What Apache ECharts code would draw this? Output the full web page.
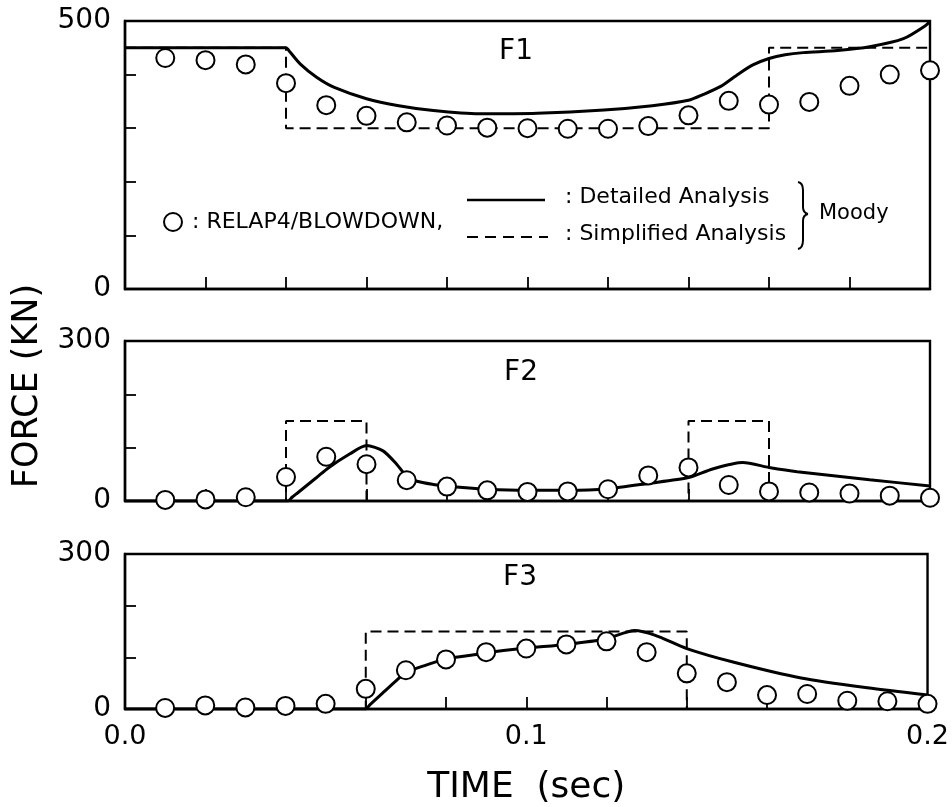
<!DOCTYPE html>
<html><head><meta charset="utf-8">
<script src="https://cdn.jsdelivr.net/npm/echarts@6/dist/echarts.min.js"></script>
<style>html,body{margin:0;padding:0;background:#fff}#c{width:952px;height:807px}</style>
</head><body><div id="c"></div>
<script>
// ---- data (time in sec, force in kN) ----
const relapTime = [0.01,0.02,0.03,0.04,0.05,0.06,0.07,0.08,0.09,0.10,0.11,0.12,0.13,0.14,0.15,0.16,0.17,0.18,0.19,0.20];
const f1Relap = [431,427,419,384,343,323,311,305,301,300,299,299,304,324,351,344,349,379,400,408];
const f2Relap = [2,3,7,45,83,69,39,27,20,17,18,22,48,63,30,18,16,14,10,6];
const f3Relap = [2,7,3,6,10,39,75,96,110,117,125,131,110,69,52,27,29,16,15,10];

const f1DetT = [0,0.038,0.04,0.041,0.0435,0.0476,0.052,0.06,0.068,0.0766,0.088,0.1024,0.119,0.131,0.14,0.1437,0.148,0.152,0.156,0.16,0.164,0.1685,0.177,0.185,0.1934,0.199,0.2];
const f1DetV = [450,450,450,442,420,395,376,355,342,333,327,328,334,342,352,363,378,399,418,430,437,441,445,452,467,492,500];
const f2DetT = [0,0.0385,0.0405,0.0415,0.043,0.0476,0.0505,0.0558,0.06,0.0641,0.0675,0.07,0.0725,0.0766,0.0806,0.09,0.10,0.11,0.12,0.13,0.14,0.146,0.1535,0.16,0.167,0.185,0.2];
const f2DetV = [0,0,0,7,16,44,62,88,104,94,69,46,37,31,27,22,20,20,23,33,44,60,72,63,55,40,28];
const f3DetT = [0,0.058,0.06,0.061,0.0645,0.068,0.07,0.075,0.08,0.088,0.09,0.10,0.11,0.12,0.127,0.132,0.14,0.152,0.1685,0.185,0.2];
const f3DetV = [0,0,0,8,33,58,71,85,97,106,109,118,125,136,152,143,117,90,60,41,27];

const f1SimT = [0,0.04,0.04,0.16,0.16,0.2];
const f1SimV = [450,450,300,300,450,450];
const f2SimT = [0,0.04,0.04,0.06,0.06,0.14,0.14,0.16,0.16,0.2];
const f2SimV = [0,0,150,150,0,0,150,150,0,0];
const f3SimT = [0,0.06,0.06,0.14,0.14,0.2];
const f3SimV = [0,0,150,150,0,0];

const yMax = [500,300,300];
const panelNames = ['F1','F2','F3'];
const xTickLabels = {'0':'0.0','0.1':'0.1','0.2':'0.2'};

const FONT = 'DejaVu Sans';
const pairs = (t,v)=>t.map((x,i)=>[x,v[i]]);

const grids = [
  {left:125, right:22, top:21, height:268},
  {left:125, right:22, top:341, height:160},
  {left:125, right:22, top:554, height:160}
];

const xAxes = grids.map((g,i)=>({
  type:'value', gridIndex:i, min:0, max:0.2, interval:0.02,
  axisLine:{show:true, lineStyle:{color:'#000', width:2.4}},
  axisTick:{show:true, inside:true, length:12, lineStyle:{color:'#000', width:1.8}},
  splitLine:{show:false},
  axisLabel:{show:i===2, margin:14, color:'#000', fontFamily:FONT, fontSize:27,
    formatter:v=>{
      if (Math.abs(v)<1e-9) return xTickLabels['0'];
      if (Math.abs(v-0.1)<1e-9) return xTickLabels['0.1'];
      if (Math.abs(v-0.2)<1e-9) return xTickLabels['0.2'];
      return '';
    }},
  name: i===2 ? 'TIME  (sec)' : '',
  nameLocation:'middle', nameGap:61,
  nameTextStyle:{color:'#000', fontFamily:FONT, fontSize:36}
}));

const yAxes = grids.map((g,i)=>({
  type:'value', gridIndex:i, min:0, max:yMax[i], interval:100,
  axisLine:{show:true, lineStyle:{color:'#000', width:2.4}},
  axisTick:{show:true, inside:true, length:11, lineStyle:{color:'#000', width:1.8}},
  splitLine:{show:false},
  axisLabel:{margin:14, color:'#000', fontFamily:FONT, fontSize:28,
    formatter:v=>(v===0||v===yMax[i])?String(v):''}
}));

const detT=[f1DetT,f2DetT,f3DetT], detV=[f1DetV,f2DetV,f3DetV];
const simT=[f1SimT,f2SimT,f3SimT], simV=[f1SimV,f2SimV,f3SimV];
const relV=[f1Relap,f2Relap,f3Relap];

const series=[];
for(let i=0;i<3;i++){
  series.push({type:'line', xAxisIndex:i, yAxisIndex:i, data:pairs(simT[i],simV[i]),
    symbol:'none', lineStyle:{color:'#000', width:2, type:[11,6]}, z:2});
  series.push({type:'line', xAxisIndex:i, yAxisIndex:i, data:pairs(detT[i],detV[i]),
    symbol:'none', smooth:0.25, lineStyle:{color:'#000', width:3}, z:3});
  series.push({type:'scatter', xAxisIndex:i, yAxisIndex:i, data:pairs(relapTime,relV[i]),
    symbol:'circle', symbolSize:18,
    itemStyle:{color:'#fff', borderColor:'#000', borderWidth:2, opacity:1}, z:5});
}

const txt=(x,y,text,size)=>({type:'text', x:x, y:y,
  style:{text:text, fill:'#000', font:size+'px "'+FONT+'"', textAlign:'center', textVerticalAlign:'middle'}});
const ltxt=(x,y,text,size)=>({type:'text', x:x, y:y,
  style:{text:text, fill:'#000', font:(size||22)+'px "'+FONT+'"', textAlign:'left', textVerticalAlign:'middle'}});
const bz=(x1,y1,cx,cy,x2,y2)=>({type:'bezierCurve', shape:{x1:x1,y1:y1,cpx1:cx,cpy1:cy,x2:x2,y2:y2}, style:{fill:null, stroke:'#000', lineWidth:2}});
const ln=(x1,y1,x2,y2,w,dash)=>({type:'line', shape:{x1:x1,y1:y1,x2:x2,y2:y2}, style:{stroke:'#000', lineWidth:w||2, lineDash:dash||null}});

const graphic=[
  txt(516,52,panelNames[0],28),
  txt(521,373,panelNames[1],28),
  txt(520,578,panelNames[2],28),
  {type:'text', x:28, y:386, rotation:Math.PI/2,
    style:{text:'FORCE (KN)', fill:'#000', font:'35px "'+FONT+'"', textAlign:'center', textVerticalAlign:'middle'}},
  // legend
  {type:'circle', shape:{cx:173, cy:222, r:9}, style:{fill:'#fff', stroke:'#000', lineWidth:2}},
  ltxt(192,222,': RELAP4/BLOWDOWN,'),
  ln(467,200,545,200,2.4),
  ln(467,237,548,237,2,[11,7]),
  ltxt(565,197,': Detailed Analysis'),
  ltxt(565,234,': Simplified Analysis'),
  bz(798,182,803,183,803,190),
  ln(803,190,803,207),
  bz(803,207,803,213,808,214),
  bz(808,214,803,215,803,221),
  ln(803,221,803,240),
  bz(803,240,803,248,798,249),
  ltxt(819,214,'Moody',21)
];

const chart=echarts.init(document.getElementById('c'), null, {renderer:'canvas'});
chart.setOption({
  animation:false,
  backgroundColor:'#fff',
  grid:grids.map(g=>Object.assign({show:true, borderColor:'#000', borderWidth:2.4, backgroundColor:'transparent'},g)),
  xAxis:xAxes, yAxis:yAxes, series:series, graphic:graphic
});
</script></body></html>
